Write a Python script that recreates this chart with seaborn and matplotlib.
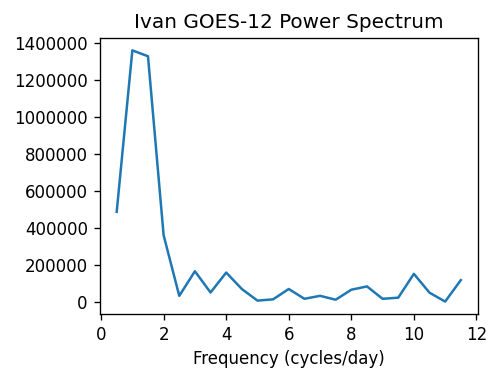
import matplotlib
matplotlib.use("Agg")
import matplotlib.pyplot as plt
import seaborn as sns
import numpy as np

# Power spectrum values
freq = [0.5, 1.0, 1.5, 2.0, 2.5, 3.0, 3.5, 4.0, 4.5, 5.0, 5.5, 6.0,
        6.5, 7.0, 7.5, 8.0, 8.5, 9.0, 9.5, 10.0, 10.5, 11.0, 11.5]
power = [488000, 1362000, 1330000, 361000, 33000, 166000, 51000, 159000, 70000, 7000, 14000, 70000,
         17000, 33000, 12000, 66000, 84000, 17000, 23000, 152000, 50000, 2000, 118000]

fig, ax = plt.subplots(figsize=(500 / 120, 378 / 120), dpi=120)
fig.subplots_adjust(left=0.199, right=0.956, top=0.900, bottom=0.169)

sns.lineplot(x=freq, y=power, ax=ax, color="tab:blue")

ax.set_title("Ivan GOES-12 Power Spectrum")
ax.set_xlabel("Frequency (cycles/day)")
ax.set_xticks(np.arange(0, 13, 2))
ax.set_yticks(np.arange(0, 1400001, 200000))
ax.ticklabel_format(axis="y", style="plain")

fig.savefig("out.png", dpi=120)
